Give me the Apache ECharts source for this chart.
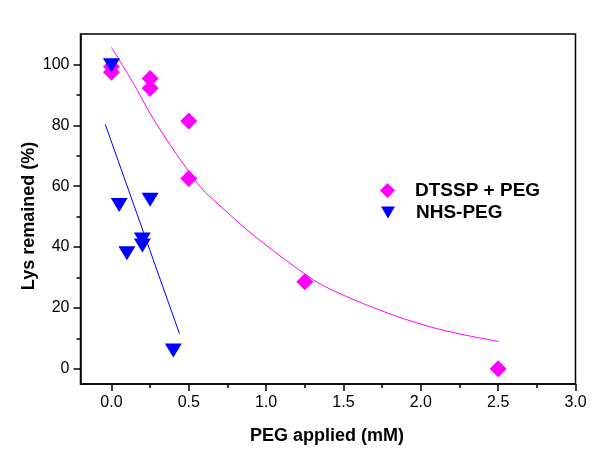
<!DOCTYPE html>
<html>
<head>
<meta charset="utf-8">
<script src="https://cdn.jsdelivr.net/npm/echarts@6/dist/echarts.min.js"></script>
<style>html,body{margin:0;padding:0;background:#fff}#c{width:604px;height:468px}</style>
</head>
<body>
<div id="c"></div>
<script>
// Data
const dtsspX = [0.0, 0.0, 0.25, 0.25, 0.5, 0.5, 1.25, 2.5];
const dtsspY = [99.2, 97.4, 95.4, 92.2, 81.4, 62.5, 28.6, 0.0];
const nhsX = [0.0, 0.05, 0.1, 0.2, 0.2, 0.25, 0.4];
const nhsY = [99.7, 53.8, 38.0, 42.5, 40.5, 55.5, 6.0];
const dtsspFitX = [0.0, 0.142, 0.25, 0.358, 0.465, 0.591, 0.66, 0.875, 1.09, 1.306, 1.414, 1.543, 1.629, 1.845, 2.06, 2.275, 2.504];
const dtsspFitY = [105.6, 93.8, 83.9, 75.2, 67.3, 58.8, 55.5, 45.7, 37.1, 29.2, 26.2, 23.2, 21.4, 17.2, 13.8, 11.2, 9.0];
const nhsFitX = [-0.04, 0.44];
const nhsFitY = [80.3, 11.5];
const xMajorTicks = [0.0, 0.5, 1.0, 1.5, 2.0, 2.5, 3.0];
const xMinorTicks = [0.25, 0.75, 1.25, 1.75, 2.25, 2.75];
const yMajorTicks = [0, 20, 40, 60, 80, 100];
const yMinorTicks = [10, 30, 50, 70, 90];
const seriesNames = ['DTSSP + PEG', 'NHS-PEG'];
const xTitle = 'PEG applied (mM)';
const yTitle = 'Lys remained (%)';

const pair = (xs, ys) => xs.map((x, i) => [x, ys[i]]);
const FONT = '"Liberation Sans", Arial, sans-serif';
const TRI = 'path://M0,0L2,0L1,2Z';

const chart = echarts.init(document.getElementById('c'), null, {renderer: 'canvas'});
const axisLineStyle = {color: '#000', width: 1.5};
const baseX = {type: 'value', min: -0.2, max: 3.0, splitLine: {show: false}, position: 'bottom'};
const baseY = {type: 'value', min: -5, max: 110, splitLine: {show: false}, position: 'left'};

chart.setOption({
  animation: false,
  backgroundColor: '#fff',
  grid: {left: 80.5, top: 34, right: 28.5, bottom: 84, show: true, borderColor: '#000', borderWidth: 1.5, containLabel: false},
  xAxis: [
    Object.assign({}, baseX, {
      axisLine: {show: true, lineStyle: axisLineStyle, onZero: false},
      axisTick: {show: true, length: 7, lineStyle: {color: '#000', width: 1.5}, customValues: xMajorTicks},
      axisLabel: {show: true, margin: 11, color: '#000', fontSize: 16, fontFamily: FONT, customValues: xMajorTicks,
        formatter: v => v.toFixed(1)}
    }),
    Object.assign({}, baseX, {
      axisLine: {show: false, onZero: false},
      axisTick: {show: true, length: 4, lineStyle: {color: '#000', width: 1.5}, customValues: xMinorTicks},
      axisLabel: {show: false}
    })
  ],
  yAxis: [
    Object.assign({}, baseY, {
      axisLine: {show: true, lineStyle: axisLineStyle, onZero: false},
      axisTick: {show: true, length: 7, lineStyle: {color: '#000', width: 1.5}, customValues: yMajorTicks},
      axisLabel: {show: true, margin: 11, color: '#000', fontSize: 16, fontFamily: FONT, customValues: yMajorTicks}
    }),
    Object.assign({}, baseY, {
      axisLine: {show: false, onZero: false},
      axisTick: {show: true, length: 4, lineStyle: {color: '#000', width: 1.5}, customValues: yMinorTicks},
      axisLabel: {show: false}
    })
  ],
  legend: [
    {
      data: [{name: seriesNames[0], icon: 'diamond'}],
      left: 380, top: 181, orient: 'vertical', padding: 0,
      itemWidth: 15, itemHeight: 15, symbolKeepAspect: false,
      textStyle: {fontFamily: FONT, fontSize: 19, fontWeight: 'bold', color: '#000', padding: [0, 0, 0, 15]},
      selectedMode: false
    },
    {
      data: [{name: seriesNames[1], icon: TRI}],
      left: 381, top: 203, orient: 'vertical', padding: 0,
      itemWidth: 14, itemHeight: 12, symbolKeepAspect: false,
      textStyle: {fontFamily: FONT, fontSize: 19, fontWeight: 'bold', color: '#000', padding: [0, 0, 0, 16]},
      selectedMode: false
    }
  ],
  graphic: [
    {type: 'text', x: 327, y: 436, style: {text: xTitle, font: 'bold 18px ' + FONT, fill: '#000', align: 'center', verticalAlign: 'middle'}},
    {type: 'text', x: 29, y: 216, rotation: Math.PI / 2, style: {text: yTitle, font: 'bold 18px ' + FONT, fill: '#000', align: 'center', verticalAlign: 'middle'}}
  ],
  series: [
    {name: 'dtsspFit', type: 'line', data: pair(dtsspFitX, dtsspFitY), smooth: 0.3, showSymbol: false, symbol: 'none',
      lineStyle: {color: '#FF00FF', width: 1}, z: 2, silent: true},
    {name: 'nhsFit', type: 'line', data: pair(nhsFitX, nhsFitY), showSymbol: false, symbol: 'none',
      lineStyle: {color: '#0000FF', width: 1}, z: 2, silent: true},
    {name: seriesNames[0], type: 'scatter', data: pair(dtsspX, dtsspY), symbol: 'diamond', symbolSize: 17,
      itemStyle: {color: '#FF00FF', opacity: 1}, z: 3},
    {name: seriesNames[1], type: 'scatter', data: pair(nhsX, nhsY), symbol: TRI, symbolSize: [17, 14], symbolKeepAspect: false,
      itemStyle: {color: '#0000FF', opacity: 1}, z: 4}
  ]
});
</script>
</body>
</html>
